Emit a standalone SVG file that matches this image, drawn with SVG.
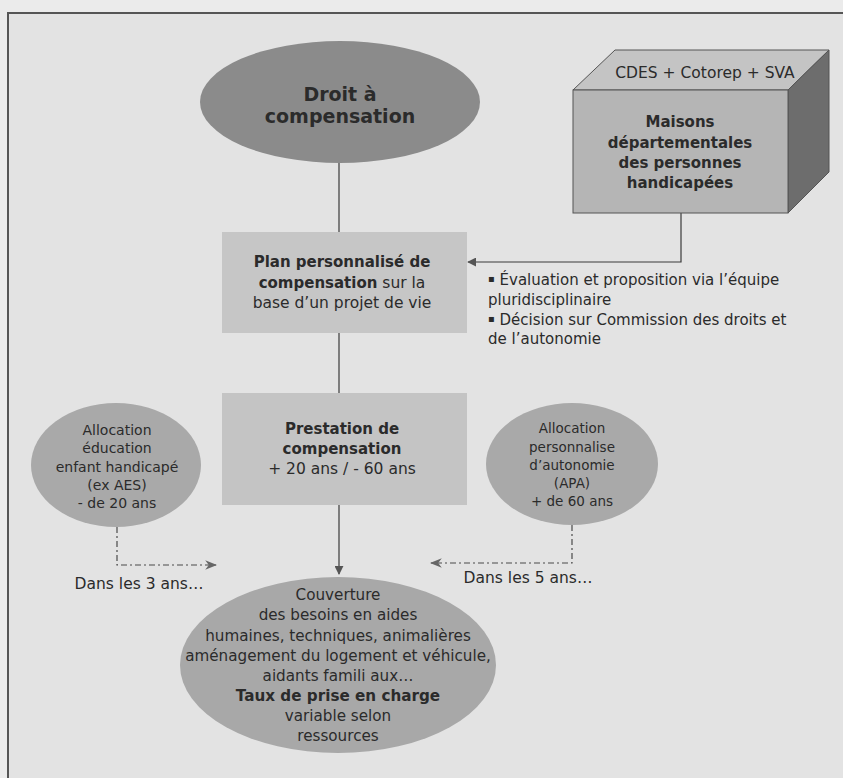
<svg xmlns="http://www.w3.org/2000/svg" width="843" height="778" viewBox="0 0 843 778">
<defs>
<style>
text{font-family:"DejaVu Sans","Liberation Sans",sans-serif;fill:#2b2b2b;text-anchor:middle}
.b{font-weight:bold}
.l{text-anchor:start}
.c{stroke:#3a3a3a;stroke-width:1.2;fill:none}
.d{stroke:#4a4a4a;stroke-width:1.2;fill:none;stroke-dasharray:6 3 2 3}
</style>
<marker id="ah" viewBox="0 0 10 10" refX="9" refY="5" markerWidth="9" markerHeight="9" markerUnits="userSpaceOnUse" orient="auto">
<path d="M0,0 L10,5 L0,10 Z" fill="#555"/>
</marker>
<marker id="ahd" viewBox="0 0 10 10" refX="9" refY="5" markerWidth="12" markerHeight="12" markerUnits="userSpaceOnUse" orient="auto">
<path d="M0,1 L10,5 L0,9 L3,5 Z" fill="#666"/>
</marker>
</defs>
<rect x="0" y="0" width="843" height="778" fill="#ebebeb"/>
<rect x="8" y="13" width="845" height="775" fill="#e3e3e3" stroke="#555" stroke-width="2"/>

<g id="connectors">
<line class="c" x1="339" y1="163" x2="339" y2="232"/>
<polyline class="c" points="681,213 681,262 468,262" marker-end="url(#ah)"/>
<line class="c" x1="339" y1="333" x2="339" y2="393"/>
<line class="c" x1="339" y1="505" x2="339" y2="574" marker-end="url(#ah)"/>
<polyline class="d" points="117,527 117,565 216,565" marker-end="url(#ahd)"/>
<polyline class="d" points="572,525 572,563 431,563" marker-end="url(#ahd)"/>
</g>

<g id="droit">
<ellipse cx="340" cy="102" rx="140" ry="61" fill="#8b8b8b"/>
<text x="340" y="101" font-size="19" class="b">Droit à</text>
<text x="340" y="123" font-size="19" class="b">compensation</text>
</g>

<g id="maisons">
<polygon points="573,90 615,50 829,50 788,90" fill="#c4c4c4" stroke="#555" stroke-width="1"/>
<polygon points="788,90 829,50 829,172 788,213" fill="#6d6d6d" stroke="#555" stroke-width="1"/>
<rect x="573" y="90" width="215" height="123" fill="#b5b5b5" stroke="#555" stroke-width="1"/>
<text x="705" y="78" font-size="15.5">CDES + Cotorep + SVA</text>
<text x="680" y="127" font-size="15" class="b">Maisons</text>
<text x="680" y="148" font-size="15" class="b">départementales</text>
<text x="680" y="168" font-size="15" class="b">des personnes</text>
<text x="680" y="188" font-size="15" class="b">handicapées</text>
</g>

<g id="plan">
<rect x="222" y="232" width="245" height="101" fill="#c6c6c6"/>
<text x="342" y="267" font-size="15" class="b">Plan personnalisé de</text>
<text x="342" y="288" font-size="15.5"><tspan class="b" font-size="15">compensation</tspan> sur la</text>
<text x="342" y="308" font-size="15.5">base d’un projet de vie</text>
</g>

<g id="evaluation">
<text class="l" x="488" y="285" font-size="15"><tspan font-size="10" dy="-3">▪</tspan><tspan dy="3"> Évaluation et proposition via l’équipe</tspan></text>
<text class="l" x="488" y="305" font-size="15">pluridisciplinaire</text>
<text class="l" x="488" y="325" font-size="15"><tspan font-size="10" dy="-3">▪</tspan><tspan dy="3"> Décision sur Commission des droits et</tspan></text>
<text class="l" x="488" y="344" font-size="15">de l’autonomie</text>
</g>

<g id="prestation">
<rect x="222" y="393" width="245" height="112" fill="#c4c4c4"/>
<text x="342" y="434" font-size="15" class="b">Prestation de</text>
<text x="342" y="454" font-size="15" class="b">compensation</text>
<text x="342" y="474" font-size="15.5">+ 20 ans / - 60 ans</text>
</g>

<g id="aeeh">
<ellipse cx="116" cy="465" rx="85" ry="62" fill="#a9a9a9"/>
<text x="117" y="435" font-size="14">Allocation</text>
<text x="117" y="453" font-size="14">éducation</text>
<text x="117" y="472" font-size="14">enfant handicapé</text>
<text x="117" y="490" font-size="14">(ex AES)</text>
<text x="117" y="508" font-size="14">- de 20 ans</text>
</g>

<g id="apa">
<ellipse cx="572" cy="464" rx="86" ry="61" fill="#a9a9a9"/>
<text x="572" y="433" font-size="13.5">Allocation</text>
<text x="572" y="452" font-size="13.5">personnalise</text>
<text x="572" y="470" font-size="13.5">d’autonomie</text>
<text x="572" y="488" font-size="13.5">(APA)</text>
<text x="572" y="506" font-size="13.5">+ de 60 ans</text>
</g>

<g id="delais">
<text x="139" y="589" font-size="15.5">Dans les 3 ans…</text>
<text x="528" y="583" font-size="15.5">Dans les 5 ans…</text>
</g>

<g id="couverture">
<ellipse cx="338" cy="665" rx="158" ry="88" fill="#a8a8a8"/>
<text x="338" y="600" font-size="15.2">Couverture</text>
<text x="338" y="620" font-size="15.2">des besoins en aides</text>
<text x="338" y="641" font-size="15.2">humaines, techniques, animalières</text>
<text x="338" y="661" font-size="15.2">aménagement du logement et véhicule,</text>
<text x="338" y="681" font-size="15.2">aidants famili aux…</text>
<text x="338" y="701" font-size="15.2" class="b">Taux de prise en charge</text>
<text x="338" y="721" font-size="15.2">variable selon</text>
<text x="338" y="741" font-size="15.2">ressources</text>
</g>
</svg>
